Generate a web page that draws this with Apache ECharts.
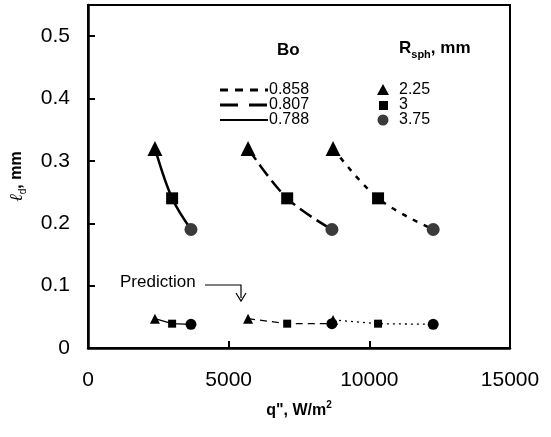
<!DOCTYPE html>
<html>
<head>
<meta charset="utf-8">
<script src="https://cdn.jsdelivr.net/npm/echarts@6/dist/echarts.min.js"></script>
<style>html,body{margin:0;padding:0;background:#fff}#c{width:551px;height:437px}</style>
</head>
<body>
<div id="c"></div>
<script>
// ---- data ----
const boValues = ['0.858', '0.807', '0.788'];
const rsphValues = ['2.25', '3', '3.75'];
const pointSymbols = ['triangle', 'rect', 'circle'];
// heat flux q'' (W/m2) for each Bo group, ordered by Rsph 2.25, 3, 3.75
const q_0788 = [2380, 2990, 3660];
const q_0807 = [5690, 7080, 8670];
const q_0858 = [8710, 10310, 12270];
// measured departure length (mm)
const ld_0788 = [0.32, 0.24, 0.19];
const ld_0807 = [0.32, 0.24, 0.19];
const ld_0858 = [0.32, 0.24, 0.19];
// predicted (mm)
const pred_0788 = [0.047, 0.039, 0.038];
const pred_0807 = [0.047, 0.039, 0.039];
const pred_0858 = [0.045, 0.039, 0.038];
const xTicks = [0, 5000, 10000, 15000];
const yTicks = [0, 0.1, 0.2, 0.3, 0.4, 0.5];

const FONT = 'Liberation Sans, Arial, sans-serif';

function pts(qs, ls, big, circleColor) {
  return qs.map((q, i) => {
    const sym = pointSymbols[i];
    let size;
    if (big) size = sym === 'triangle' ? 15 : (sym === 'rect' ? 12 : 13);
    else size = sym === 'triangle' ? 10 : (sym === 'rect' ? 8 : 11);
    return {
      value: [q, ls[i]],
      symbol: sym,
      symbolSize: size,
      itemStyle: { color: sym === 'circle' ? circleColor : '#000' }
    };
  });
}

const lineStyles = {
  '0.858': { big: [5, 7], small: [2, 4] },
  '0.807': { big: [14, 6], small: [7, 5] },
  '0.788': { big: 'solid', small: 'solid' }
};

function mkSeries(bo, qs, ls, big) {
  return {
    type: 'line',
    name: bo + (big ? ' exp' : ' pred'),
    data: pts(qs, ls, big, big ? '#3a3a3a' : '#000'),
    smooth: big ? 0.35 : false,
    lineStyle: { color: '#000', width: big ? 2.5 : 1.3, type: big ? lineStyles[bo].big : lineStyles[bo].small },
    z: 3
  };
}

const series = [
  mkSeries('0.788', q_0788, ld_0788, true),
  mkSeries('0.807', q_0807, ld_0807, true),
  mkSeries('0.858', q_0858, ld_0858, true),
  mkSeries('0.788', q_0788, pred_0788, false),
  mkSeries('0.807', q_0807, pred_0807, false),
  mkSeries('0.858', q_0858, pred_0858, false)
];

// legend graphics
const legendDash = [[8, 7], [18, 11], null];
const g = [];
g.push({ type: 'text', left: 277, top: 42, style: { text: 'Bo', font: 'bold 17px ' + FONT, fill: '#000' } });
g.push({ type: 'text', left: 399, top: 40, style: {
  text: '{a|R}{s|sph}{a|, mm}', fill: '#000',
  rich: {
    a: { font: 'bold 17px ' + FONT, lineHeight: 24, verticalAlign: 'middle' },
    s: { font: 'bold 11px ' + FONT, lineHeight: 12, verticalAlign: 'bottom' }
  }
} });
boValues.forEach((b, i) => {
  const y = 90 + i * 15;
  g.push({ type: 'line', shape: { x1: 220, y1: y, x2: 268, y2: y },
    style: { stroke: '#000', lineWidth: i === 2 ? 2 : 3, lineDash: legendDash[i] } });
  g.push({ type: 'text', x: 269, y: y, style: { text: b, font: '16px ' + FONT, fill: '#000', textVerticalAlign: 'middle' } });
  g.push({ type: 'text', x: 399, y: y, style: { text: rsphValues[i], font: '16px ' + FONT, fill: '#000', textVerticalAlign: 'middle' } });
});
// legend symbols
g.push({ type: 'polygon', shape: { points: [[383, 84], [377, 95], [389, 95]] }, style: { fill: '#000' } });
g.push({ type: 'rect', shape: { x: 379, y: 101, width: 9, height: 9 }, style: { fill: '#000' } });
g.push({ type: 'circle', shape: { cx: 383, cy: 120, r: 5.5 }, style: { fill: '#3a3a3a' } });
// Prediction annotation
g.push({ type: 'text', left: 120, top: 274, style: { text: 'Prediction', font: '17px ' + FONT, fill: '#000' } });
g.push({ type: 'polyline', shape: { points: [[205, 285], [241, 285], [241, 298]] }, style: { stroke: '#000', lineWidth: 1.2, fill: null } });
g.push({ type: 'polyline', shape: { points: [[236, 293], [241, 301], [246, 293]] }, style: { stroke: '#000', lineWidth: 1.2, fill: null } });

const chart = echarts.init(document.getElementById('c'), null, { renderer: 'canvas' });
chart.setOption({
  animation: false,
  backgroundColor: '#fff',
  grid: { left: 88, right: 41, top: 5, bottom: 89, show: true, borderColor: '#000', borderWidth: 2, backgroundColor: 'transparent' },
  xAxis: {
    type: 'value', min: xTicks[0], max: xTicks[xTicks.length - 1], interval: 5000,
    name: '{a|q", W/m}{p|2}', nameLocation: 'middle', nameGap: 52,
    nameTextStyle: { rich: {
      a: { fontFamily: FONT, fontWeight: 'bold', fontSize: 16, lineHeight: 22, verticalAlign: 'middle', color: '#000' },
      p: { fontFamily: FONT, fontWeight: 'bold', fontSize: 10, lineHeight: 12, verticalAlign: 'top', color: '#000' }
    } },
    axisLine: { lineStyle: { color: '#000', width: 2.5 } },
    axisTick: { inside: true, length: 7, lineStyle: { color: '#000', width: 2 } },
    axisLabel: { fontFamily: FONT, fontSize: 21, color: '#000', margin: 22, formatter: v => String(v) },
    splitLine: { show: false }
  },
  yAxis: {
    type: 'value', min: 0, max: 0.55, interval: 0.1,
    name: '{l|ℓ}{s|d}{a|, mm}', nameLocation: 'middle', nameGap: 60,
    nameTextStyle: { rich: {
      l: { fontFamily: 'DejaVu Serif, serif', fontStyle: 'italic', fontSize: 18, lineHeight: 22, verticalAlign: 'middle', color: '#000' },
      a: { fontFamily: FONT, fontWeight: 'bold', fontSize: 16, lineHeight: 22, verticalAlign: 'middle', color: '#000' },
      s: { fontFamily: FONT, fontSize: 10, lineHeight: 11, verticalAlign: 'bottom', color: '#000' }
    } },
    axisLine: { lineStyle: { color: '#000', width: 2.5 } },
    axisTick: { inside: true, length: 7, lineStyle: { color: '#000', width: 2 } },
    axisLabel: { fontFamily: FONT, fontSize: 21, color: '#000', margin: 18, showMaxLabel: false,
      formatter: v => (Math.abs(v - 0.55) < 1e-9 ? '' : String(Math.round(v * 10) / 10)) },
    splitLine: { show: false }
  },
  series: series,
  graphic: g
});
</script>
</body>
</html>
